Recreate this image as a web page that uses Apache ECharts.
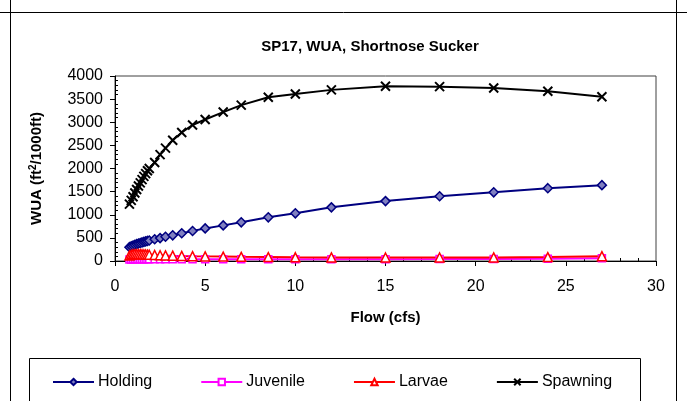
<!DOCTYPE html>
<html>
<head>
<meta charset="utf-8">
<script src="https://cdn.jsdelivr.net/npm/echarts@6/dist/echarts.min.js"></script>
<style>
  html, body { margin: 0; padding: 0; background: #fff; }
  #chart { width: 687px; height: 401px; }
</style>
</head>
<body>
<div id="chart"></div>
<script>
// flow values (cfs) for every measured point
var flow = [0.8, 0.9, 1.0, 1.1, 1.2, 1.3, 1.4, 1.5, 1.6, 1.7, 1.8, 1.9,
            2.2, 2.5, 2.8, 3.2, 3.7, 4.3, 5, 6, 7, 8.5, 10, 12, 15, 18, 21, 24, 27];

var holding  = [300, 320, 335, 350, 365, 378, 390, 402, 413, 424, 434, 443,
                470, 495, 525, 555, 600, 650, 705, 770, 836, 944, 1031, 1160, 1295, 1400, 1485, 1575, 1640];
var juvenile = [30, 35, 38, 40, 40, 40, 40, 40, 40, 40, 40, 40,
                40, 40, 40, 40, 40, 40, 40, 40, 40, 40, 40, 40, 40, 42, 45, 50, 60];
var larvae   = [120, 135, 145, 150, 150, 150, 148, 145, 143, 140, 138, 135,
                130, 125, 120, 115, 110, 105, 100, 95, 90, 85, 80, 78, 75, 75, 78, 85, 105];
var spawning = [1230, 1310, 1390, 1470, 1545, 1620, 1690, 1760, 1830, 1890, 1950, 2000,
                2130, 2300, 2440, 2610, 2780, 2940, 3060, 3220, 3370, 3540, 3610, 3700, 3780, 3770, 3740, 3670, 3550];

var xTicks = [0, 5, 10, 15, 20, 25, 30];
var yTicks = [0, 500, 1000, 1500, 2000, 2500, 3000, 3500, 4000];

function pairs(vals) {
    return flow.map(function (f, i) { return [f, vals[i]]; });
}

var font = 'Liberation Sans, Arial, sans-serif';
var crossPath = 'path://M0,0L10,10M10,0L0,10';

var chart = echarts.init(document.getElementById('chart'));
var option = {
    animation: false,
    textStyle: { fontFamily: font },
    title: {
        text: 'SP17, WUA, Shortnose Sucker',
        left: 365,
        top: 34,
        textAlign: 'center',
        textStyle: { fontSize: 15, fontWeight: 'bold', color: '#000', fontFamily: font }
    },
    grid: {
        left: 115, right: 31, top: 76, bottom: 140,
        show: true, borderColor: '#404040', borderWidth: 1
    },
    legend: {
        left: 47,
        top: 369,
        itemWidth: 41,
        itemHeight: 8,
        itemGap: 48,
        textStyle: { fontSize: 16, color: '#000', fontFamily: font, padding: [0, 0, 0, -1] },
        data: ['Holding', 'Juvenile', 'Larvae', 'Spawning']
    },
    graphic: [
        { type: 'line', shape: { x1: 0, y1: 12.5, x2: 687, y2: 12.5 }, style: { stroke: '#000', lineWidth: 1 } },
        { type: 'line', shape: { x1: 10.5, y1: 0, x2: 10.5, y2: 401 }, style: { stroke: '#000', lineWidth: 1 } },
        { type: 'line', shape: { x1: 676.5, y1: 0, x2: 676.5, y2: 401 }, style: { stroke: '#000', lineWidth: 1 } },
        { type: 'rect', shape: { x: 29.5, y: 358.5, width: 611, height: 60 }, style: { stroke: '#000', fill: 'none', lineWidth: 1 } }
    ],
    xAxis: [{
        type: 'value',
        min: xTicks[0], max: xTicks[xTicks.length - 1], interval: 5,
        name: 'Flow (cfs)',
        nameLocation: 'middle',
        nameGap: 49,
        nameTextStyle: { fontSize: 15, fontWeight: 'bold', color: '#000', fontFamily: font },
        axisLine: { lineStyle: { color: '#000', width: 1 } },
        axisTick: { show: true, length: 5, lineStyle: { color: '#000' } },
        axisLabel: { fontSize: 16, color: '#000', margin: 18, fontFamily: font },
        splitLine: { show: false }
    }, {
        type: 'value', position: 'bottom', offset: 0,
        min: xTicks[0], max: xTicks[xTicks.length - 1], interval: 5,
        axisLine: { show: false },
        axisTick: { show: false, inside: true },
        minorTick: { show: true, splitNumber: 5, length: 3, lineStyle: { color: '#000' } },
        axisLabel: { show: false },
        splitLine: { show: false }
    }],
    yAxis: [{
        type: 'value',
        min: yTicks[0], max: yTicks[yTicks.length - 1], interval: 500,
        name: '{a|WUA (ft}{s|2}{a|/1000ft)}',
        nameLocation: 'middle',
        nameRotate: 90,
        nameGap: 70,
        nameTextStyle: {
            rich: {
                a: { fontSize: 15, fontWeight: 'bold', color: '#000', fontFamily: font },
                s: { fontSize: 10, fontWeight: 'bold', color: '#000', fontFamily: font, verticalAlign: 'top', padding: [0, 0, 7, 0] }
            }
        },
        axisLine: { show: true, lineStyle: { color: '#000', width: 1 } },
        axisTick: { show: true, length: 5, lineStyle: { color: '#000' } },
        axisLabel: {
            fontSize: 16, color: '#000', margin: 12, fontFamily: font,
            formatter: function (v) { return String(v); }
        },
        splitLine: { show: false }
    }, {
        type: 'value', position: 'left', offset: 0,
        min: yTicks[0], max: yTicks[yTicks.length - 1], interval: 500,
        axisLine: { show: false },
        axisTick: { show: false, inside: true },
        minorTick: { show: true, splitNumber: 5, length: 3, lineStyle: { color: '#000' } },
        axisLabel: { show: false },
        splitLine: { show: false }
    }],
    series: [{
        name: 'Holding', type: 'line', data: pairs(holding),
        symbol: 'diamond', symbolSize: 9,
        lineStyle: { color: '#000080', width: 2 },
        itemStyle: { color: '#8080c0', borderColor: '#000080', borderWidth: 1.5 }
    }, {
        name: 'Juvenile', type: 'line', data: pairs(juvenile),
        symbol: 'rect', symbolSize: 7,
        lineStyle: { color: '#FF00FF', width: 2 },
        itemStyle: { color: '#ffffff', borderColor: '#FF00FF', borderWidth: 1.5 }
    }, {
        name: 'Larvae', type: 'line', data: pairs(larvae),
        symbol: 'triangle', symbolSize: 9,
        lineStyle: { color: '#FF0000', width: 2 },
        itemStyle: { color: '#ffffff', borderColor: '#FF0000', borderWidth: 1.5 }
    }, {
        name: 'Spawning', type: 'line', data: pairs(spawning),
        symbol: crossPath, symbolSize: 9,
        lineStyle: { color: '#000000', width: 2 },
        itemStyle: { color: '#000000', borderColor: '#000000', borderWidth: 2 }
    }]
};
chart.setOption(option);
</script>
</body>
</html>
